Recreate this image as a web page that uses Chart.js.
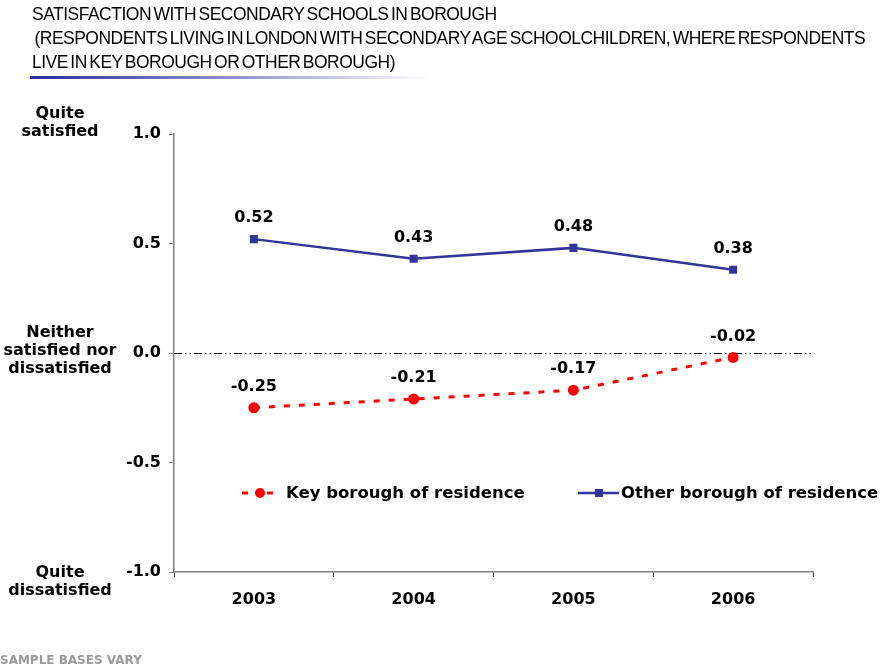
<!DOCTYPE html>
<html>
<head>
<meta charset="utf-8">
<script src="https://cdn.jsdelivr.net/npm/chart.js@4.4.1/dist/chart.umd.min.js"></script>
<style>
  html, body { margin: 0; padding: 0; background: #fff; }
  #wrap { position: relative; width: 880px; height: 669px; overflow: hidden; }
  #wrap canvas { position: absolute; left: 0; top: 0; }
  .title {
    position: absolute; left: 32px; top: 2px;
    font-family: "Liberation Sans", Arial, sans-serif;
    font-size: 18px; line-height: 24px; letter-spacing: -0.5px; word-spacing: -2px;
    color: #000; white-space: pre;
    transform: scaleX(0.97); transform-origin: 0 0;
  }
  .rule {
    position: absolute; left: 30px; top: 76px; width: 400px; height: 3px;
    background: linear-gradient(to right, #2b2b9b, #8e8ecb 50%, #ffffff);
  }
  .side {
    position: absolute; width: 120px; text-align: center;
    font-family: "DejaVu Sans", Verdana, sans-serif; font-weight: bold;
    font-size: 16px; line-height: 18px; color: #000;
  }
  .foot {
    position: absolute; left: 0; top: 653px;
    font-family: "DejaVu Sans", Verdana, sans-serif; font-weight: bold;
    font-size: 12px; color: #999;
  }
</style>
</head>
<body>
<div id="wrap">
  <canvas id="schoolChart" width="880" height="669"></canvas>
  <div class="title">SATISFACTION WITH SECONDARY SCHOOLS IN BOROUGH
 (RESPONDENTS LIVING IN LONDON WITH SECONDARY AGE SCHOOLCHILDREN, WHERE RESPONDENTS
LIVE IN KEY BOROUGH OR OTHER BOROUGH)</div>
  <div class="rule"></div>
  <div class="side" style="left:0px; top:104px;">Quite<br>satisfied</div>
  <div class="side" style="left:0px; top:323px;">Neither<br>satisfied nor<br>dissatisfied</div>
  <div class="side" style="left:0px; top:563px;">Quite<br>dissatisfied</div>
  <div class="foot">SAMPLE BASES VARY</div>
</div>

<script>
const years = ['2003', '2004', '2005', '2006'];
const keyBorough = [-0.25, -0.21, -0.17, -0.02];
const otherBorough = [0.52, 0.43, 0.48, 0.38];
const yTicks = [-1.0, -0.5, 0.0, 0.5, 1.0];
const seriesNames = ['Key borough of residence', 'Other borough of residence'];

const RED = '#ff0000';
const BLUE = '#333399';
const FONT = '"DejaVu Sans", Verdana, sans-serif';
const labelFont = 'bold 16px ' + FONT;

// dash-dot line along the neutral value
const zeroLine = {
    id: 'zeroLine',
    beforeDatasetsDraw(chart) {
        const { ctx, chartArea } = chart;
        const y = Math.round(chart.scales.y.getPixelForValue(0)) + 0.5;
        ctx.save();
        ctx.strokeStyle = '#000';
        ctx.lineWidth = 1.2;
        ctx.setLineDash([8, 3, 1.5, 3, 1.5, 3]);
        ctx.beginPath();
        ctx.moveTo(chartArea.left, y);
        ctx.lineTo(chartArea.right, y);
        ctx.stroke();
        ctx.restore();
    }
};

// value labels above every point
const valueLabels = {
    id: 'valueLabels',
    afterDatasetsDraw(chart) {
        const ctx = chart.ctx;
        ctx.save();
        ctx.font = labelFont;
        ctx.fillStyle = '#000';
        ctx.textAlign = 'center';
        ctx.textBaseline = 'middle';
        chart.data.datasets.forEach((ds, i) => {
            chart.getDatasetMeta(i).data.forEach((pt, j) => {
                ctx.fillText(ds.data[j].toFixed(2), pt.x, pt.y - 21);
            });
        });
        ctx.restore();
    }
};

// legend sits inside the plot, near the bottom
const innerLegend = {
    id: 'innerLegend',
    afterDraw(chart) {
        const ctx = chart.ctx;
        const y = Math.round(chart.scales.y.getPixelForValue(-0.64));
        ctx.save();
        ctx.font = 'bold 16.5px ' + FONT;
        ctx.textBaseline = 'middle';
        ctx.textAlign = 'left';

        // key borough: red dashes + circle
        ctx.strokeStyle = RED;
        ctx.lineWidth = 3;
        ctx.beginPath();
        ctx.moveTo(242, y); ctx.lineTo(248, y);
        ctx.moveTo(267, y); ctx.lineTo(273, y);
        ctx.stroke();
        ctx.fillStyle = RED;
        ctx.beginPath();
        ctx.arc(260, y, 5, 0, Math.PI * 2);
        ctx.fill();
        ctx.fillStyle = '#000';
        ctx.fillText(seriesNames[0], 286, y + 1);

        // other borough: blue line + square
        ctx.strokeStyle = BLUE;
        ctx.lineWidth = 2.5;
        ctx.beginPath();
        ctx.moveTo(578, y); ctx.lineTo(619, y);
        ctx.stroke();
        ctx.fillStyle = BLUE;
        ctx.fillRect(595, y - 4, 8, 8);
        ctx.fillStyle = '#000';
        ctx.fillText(seriesNames[1], 621, y + 1);
        ctx.restore();
    }
};

const ctx = document.getElementById('schoolChart').getContext('2d');
new Chart(ctx, {
    type: 'line',
    data: {
        labels: years,
        datasets: [
            {
                label: seriesNames[0],
                data: keyBorough,
                borderColor: RED,
                backgroundColor: RED,
                borderWidth: 3,
                borderDash: [6, 9],
                pointStyle: 'circle',
                pointRadius: 5.5,
                pointBorderWidth: 0,
                tension: 0
            },
            {
                label: seriesNames[1],
                data: otherBorough,
                borderColor: BLUE,
                backgroundColor: BLUE,
                borderWidth: 2.5,
                pointStyle: 'rect',
                pointRadius: 5.7,
                pointBorderWidth: 0,
                tension: 0
            }
        ]
    },
    options: {
        responsive: false,
        animation: false,
        layout: { padding: { top: 134, right: 67, bottom: 0, left: 0 } },
        plugins: {
            legend: { display: false },
            tooltip: { enabled: false }
        },
        scales: {
            x: {
                offset: true,
                border: { color: '#808080', width: 1.5 },
                grid: {
                    offset: true,
                    drawOnChartArea: false,
                    tickLength: 5,
                    tickColor: '#333'
                },
                ticks: {
                    color: '#000',
                    font: { family: FONT, size: 16, weight: 'bold' },
                    padding: 13
                },
                afterFit(s) { s.height = 97; }
            },
            y: {
                min: -1,
                max: 1,
                border: { color: '#808080', width: 1.5 },
                afterBuildTicks(s) { s.ticks = yTicks.map(v => ({ value: v })); },
                grid: {
                    drawOnChartArea: false,
                    tickColor: '#808080',
                    tickLength: 5
                },
                ticks: {
                    color: '#000',
                    font: { family: FONT, size: 16, weight: 'bold' },
                    padding: 8,
                    callback: v => v.toFixed(1)
                },
                afterFit(s) { s.width = 174; }
            }
        }
    },
    plugins: [zeroLine, valueLabels, innerLegend]
});
</script>
</body>
</html>
